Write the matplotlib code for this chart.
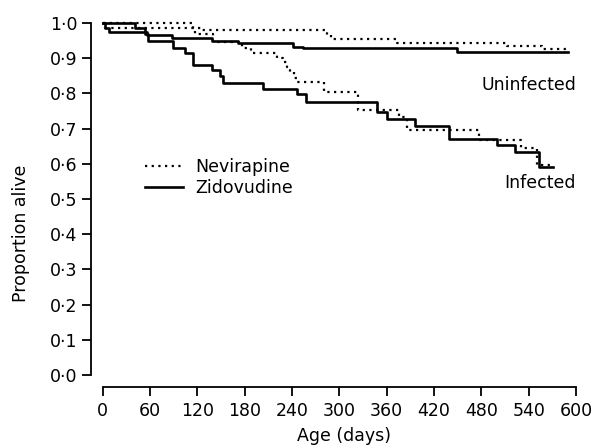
import matplotlib
matplotlib.use("Agg")
from matplotlib import pyplot as plt
from matplotlib.lines import Line2D

# survival steps (day, proportion alive)
zdv_uninf_days = [0, 3, 8, 56, 88, 138, 172, 241, 254, 449, 590]
zdv_uninf_surv = [1.0, 0.985, 0.975, 0.966, 0.956, 0.949, 0.942, 0.933, 0.928, 0.918, 0.918]

nvp_uninf_days = [0, 115, 125, 284, 290, 373, 513, 557, 590]
nvp_uninf_surv = [1.0, 0.985, 0.979, 0.966, 0.955, 0.942, 0.935, 0.925, 0.925]

zdv_inf_days = [0, 41, 54, 57, 89, 104, 115, 138, 149, 153, 203, 246, 258,
                348, 360, 396, 439, 500, 523, 553, 571]
zdv_inf_surv = [1.0, 0.985, 0.97, 0.949, 0.928, 0.914, 0.882, 0.866, 0.849,
                0.830, 0.812, 0.797, 0.777, 0.748, 0.726, 0.707, 0.670, 0.653,
                0.634, 0.592, 0.592]

nvp_inf_days = [0, 3, 117, 140, 176, 188, 221, 228, 234, 238, 242, 246, 281,
                324, 375, 386, 477, 530, 551, 571]
nvp_inf_surv = [1.0, 0.985, 0.97, 0.947, 0.93, 0.916, 0.90, 0.888, 0.875,
                0.86, 0.845, 0.833, 0.805, 0.753, 0.734, 0.696, 0.667, 0.644,
                0.597, 0.597]

x_ticks = list(range(0, 601, 60))
y_ticks = [i / 10 for i in range(11)]
y_tick_labels = ["0\u00b7%d" % i for i in range(10)] + ["1\u00b70"]

plt.rcParams["font.family"] = ["DejaVu Sans"]
plt.rcParams["font.size"] = 12.5

fig = plt.figure(figsize=(5.95, 4.45), dpi=100)
ax = fig.add_axes([0.1726, 0.1573, 0.7955, 0.791])

dotted = (0, (1, 2))
ax.step(nvp_uninf_days, nvp_uninf_surv, where="post", color="black", lw=1.6,
        linestyle=dotted, clip_on=False)
ax.step(zdv_uninf_days, zdv_uninf_surv, where="post", color="black", lw=1.9,
        clip_on=False)
ax.step(nvp_inf_days, nvp_inf_surv, where="post", color="black", lw=1.6,
        linestyle=dotted, clip_on=False)
ax.step(zdv_inf_days, zdv_inf_surv, where="post", color="black", lw=1.9,
        clip_on=False)

ax.text(600, 0.824, "Uninfected", ha="right", va="center")
ax.text(600, 0.545, "Infected", ha="right", va="center")

handles = [Line2D([], [], color="black", lw=1.6, linestyle=dotted),
           Line2D([], [], color="black", lw=1.9)]
ax.legend(handles, ["Nevirapine", "Zidovudine"], loc="upper left",
          bbox_to_anchor=(0.089, 0.616), frameon=False, borderpad=0,
          borderaxespad=0, handlelength=2.2, handletextpad=0.7,
          labelspacing=0.15)

ax.set_xlim(0, 600)
ax.set_ylim(0, 1.0)
ax.set_xticks(x_ticks)
ax.set_yticks(y_ticks)
ax.set_yticklabels(y_tick_labels)

for side in ["top", "right"]:
    ax.spines[side].set_visible(False)
ax.spines["left"].set_position(("outward", 8.5))
ax.spines["bottom"].set_position(("outward", 8.6))
ax.spines["left"].set_bounds(0, 1.0)
ax.spines["bottom"].set_bounds(0, 600)
ax.spines["left"].set_linewidth(1.3)
ax.spines["bottom"].set_linewidth(1.3)
ax.tick_params(axis="both", length=6.5, width=1.3, direction="out")
ax.tick_params(axis="x", pad=4)
ax.tick_params(axis="y", pad=3)

fig.text(21 / 595, 1 - 233 / 445, "Proportion alive", rotation=90,
         ha="center", va="center")
fig.text(344 / 595, 1 - 436 / 445, "Age (days)", ha="center", va="center")

fig.savefig("out.png", dpi=100)
